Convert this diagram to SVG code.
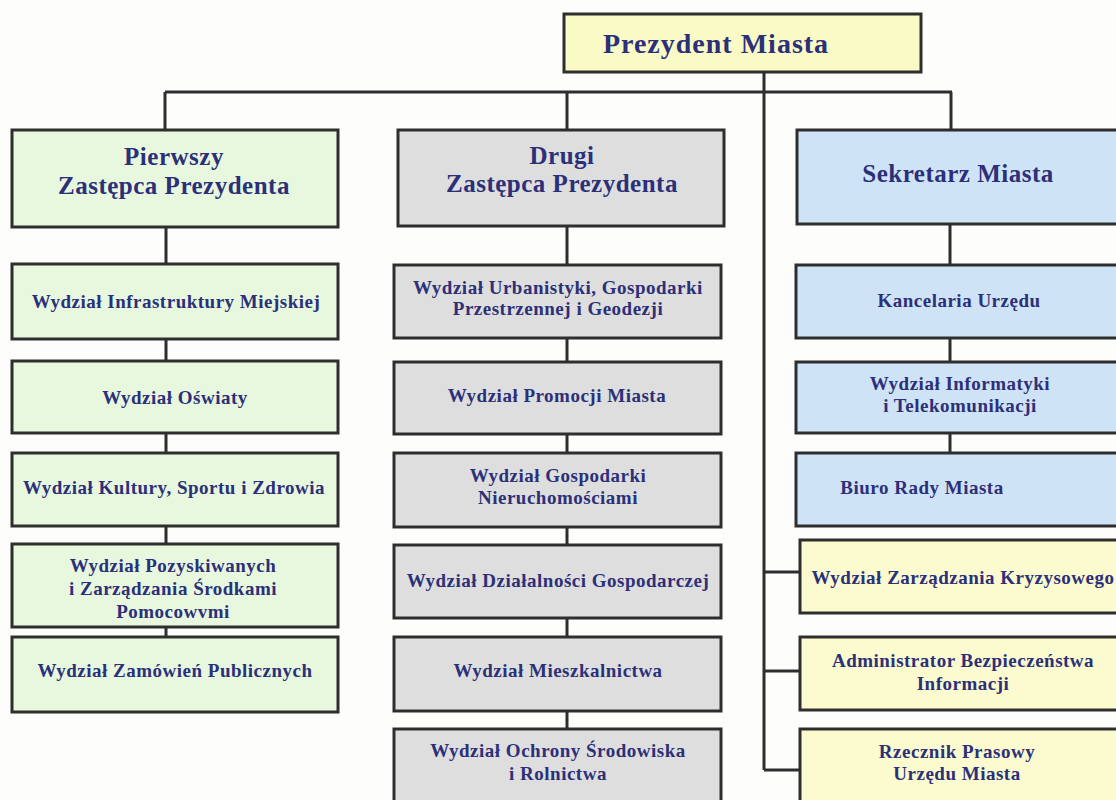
<svg xmlns="http://www.w3.org/2000/svg" width="1116" height="800" viewBox="0 0 1116 800">
<style>
.b{stroke:#2e2e2e;stroke-width:3}
.top{fill:#fafac6}
.g{fill:#e7f8df}
.gr{fill:#dedede}
.bl{fill:#cfe3f6}
.y{fill:#fbfbcf}
text{font-family:"Liberation Serif","Times New Roman",serif;font-weight:bold;fill:#2c3078;text-anchor:middle}
.t0{font-size:28px;letter-spacing:1px}
.t1{font-size:25px;letter-spacing:0.5px}
.t2{font-size:19px;letter-spacing:0.5px}
.c{stroke:#2e2e2e;stroke-width:3;fill:none}
</style>
<rect width="1116" height="800" fill="#fdfdfc"/>
<g id="connectors">
<path class="c" d="M165 92 H952 M165 92 V130 M567 92 V130 M951 92 V130 M764 72 V770"/>
<path class="c" d="M166 227 V264 M166 339 V361 M166 433 V453 M166 526 V544 M166 627 V637"/>
<path class="c" d="M567 226 V265 M567 338 V362 M567 434 V453 M567 527 V545 M567 618 V637 M567 711 V729"/>
<path class="c" d="M950 224 V265 M950 338 V362 M950 433 V453"/>
<path class="c" d="M764 572 H800 M764 671 H800 M764 770 H800"/>
</g>
<g id="prezydent"><rect class="b top" x="564" y="14" width="357" height="58"/><text class="t0" x="716" y="53">Prezydent Miasta</text></g>
<g id="pierwszy"><rect class="b g" x="12" y="130" width="326" height="97"/><text class="t1" x="174" y="165">Pierwszy</text><text class="t1" x="174" y="194">Zastępca Prezydenta</text></g>
<g id="drugi"><rect class="b gr" x="398" y="130" width="326" height="96"/><text class="t1" x="562" y="164">Drugi</text><text class="t1" x="562" y="192">Zastępca Prezydenta</text></g>
<g id="sekretarz"><rect class="b bl" x="797" y="130" width="330" height="94"/><text class="t1" x="958" y="182">Sekretarz Miasta</text></g>

<g id="l1"><rect class="b g" x="12" y="264" width="326" height="75"/><text class="t2" x="176" y="308">Wydział Infrastruktury Miejskiej</text></g>
<g id="l2"><rect class="b g" x="12" y="361" width="326" height="72"/><text class="t2" x="175" y="404">Wydział Oświaty</text></g>
<g id="l3"><rect class="b g" x="12" y="453" width="326" height="73"/><text class="t2" x="174" y="494">Wydział Kultury, Sportu i Zdrowia</text></g>
<g id="l4"><rect class="b g" x="12" y="544" width="326" height="83"/><text class="t2" x="173" y="572">Wydział Pozyskiwanych</text><text class="t2" x="173" y="595">i Zarządzania Środkami</text><text class="t2" x="173" y="618">Pomocowvmi</text></g>
<g id="l5"><rect class="b g" x="12" y="637" width="326" height="75"/><text class="t2" x="175" y="677">Wydział Zamówień Publicznych</text></g>

<g id="m1"><rect class="b gr" x="394" y="265" width="327" height="73"/><text class="t2" x="558" y="294">Wydział Urbanistyki, Gospodarki</text><text class="t2" x="558" y="315">Przestrzennej i Geodezji</text></g>
<g id="m2"><rect class="b gr" x="394" y="362" width="327" height="72"/><text class="t2" x="557" y="402">Wydział Promocji Miasta</text></g>
<g id="m3"><rect class="b gr" x="394" y="453" width="327" height="74"/><text class="t2" x="558" y="482">Wydział Gospodarki</text><text class="t2" x="558" y="504">Nieruchomościami</text></g>
<g id="m4"><rect class="b gr" x="394" y="545" width="327" height="73"/><text class="t2" x="558" y="587">Wydział Działalności Gospodarczej</text></g>
<g id="m5"><rect class="b gr" x="394" y="637" width="327" height="74"/><text class="t2" x="558" y="677">Wydział Mieszkalnictwa</text></g>
<g id="m6"><rect class="b gr" x="394" y="729" width="327" height="80"/><text class="t2" x="558" y="757">Wydział Ochrony Środowiska</text><text class="t2" x="558" y="780">i Rolnictwa</text></g>

<g id="r1"><rect class="b bl" x="796" y="265" width="330" height="73"/><text class="t2" x="959" y="307">Kancelaria Urzędu</text></g>
<g id="r2"><rect class="b bl" x="796" y="362" width="330" height="71"/><text class="t2" x="960" y="390">Wydział Informatyki</text><text class="t2" x="960" y="412">i Telekomunikacji</text></g>
<g id="r3"><rect class="b bl" x="796" y="453" width="330" height="73"/><text class="t2" x="922" y="494">Biuro Rady Miasta</text></g>
<g id="r4"><rect class="b y" x="800" y="540" width="326" height="73"/><text class="t2" x="963" y="584">Wydział Zarządzania Kryzysowego</text></g>
<g id="r5"><rect class="b y" x="800" y="637" width="326" height="73"/><text class="t2" x="963" y="667">Administrator Bezpieczeństwa</text><text class="t2" x="963" y="690">Informacji</text></g>
<g id="r6"><rect class="b y" x="800" y="729" width="326" height="80"/><text class="t2" x="957" y="758">Rzecznik Prasowy</text><text class="t2" x="957" y="780">Urzędu Miasta</text></g>
</svg>
